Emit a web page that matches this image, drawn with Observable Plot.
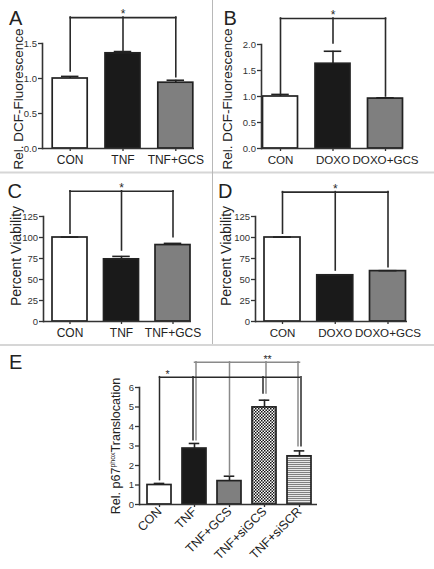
<!DOCTYPE html>
<html><head><meta charset="utf-8">
<script src="https://cdn.jsdelivr.net/npm/d3@7"></script>
<script src="https://cdn.jsdelivr.net/npm/@observablehq/plot@0.6"></script>
<style>
html,body{margin:0;padding:0;background:#fff;overflow:hidden}
#fig{position:relative;width:434px;height:569px;font-family:"Liberation Sans",Arial,Helvetica,sans-serif;}
#fig svg{position:absolute;left:0;top:0}
</style></head><body>
<svg width="0" height="0" style="position:absolute;left:0;top:0">
<defs>
<pattern id="checker" width="3" height="3" patternUnits="userSpaceOnUse">
<rect width="3" height="3" fill="#fff"/><rect width="1.5" height="1.5" fill="#111"/><rect x="1.5" y="1.5" width="1.5" height="1.5" fill="#111"/>
</pattern>
<pattern id="hstripe" width="4" height="2" patternUnits="userSpaceOnUse">
<rect width="4" height="2" fill="#e8e8e8"/><rect width="4" height="1" fill="#808080"/>
</pattern>
</defs></svg>
<div id="fig"></div>
<script>
// ---------- DATA ----------
const catsA = ["CON", "TNF", "TNF+GCS"];
const valsA = [1.0, 1.36, 0.94];
const errsA = [0.03, 0.025, 0.035];
const ticksA = [0, 0.5, 1.0, 1.5];
const bracketLegsA = [1.10, 1.39, 1.02];
const bracketTopA = 1.87;

const catsB = ["CON", "DOXO", "DOXO+GCS"];
const valsB = [1.0, 1.63, 0.96];
const errsB = [0.04, 0.24, 0.015];
const ticksB = [0, 0.5, 1.0, 1.5, 2.0];
const bracketLegsB = [1.05, 2.02, 1.0];
const bracketTopB = 2.5;

const catsC = ["CON", "TNF", "TNF+GCS"];
const valsC = [100, 74, 91];
const errsC = [0.5, 3.5, 2];
const ticksC = [0, 25, 50, 75, 100, 125];
const bracketLegsC = [104.5, 84.5, 100.5];
const bracketTopC = 155;

const catsD = ["CON", "DOXO", "DOXO+GCS"];
const valsD = [100, 55, 60];
const errsD = [0.5, 0.5, 0.5];
const ticksD = [0, 25, 50, 75, 100, 125];
const bracketLegsD = [104.5, 60.7, 64.7];
const bracketTopD = 154;

const catsE = ["CON", "TNF", "TNF+GCS", "TNF+siGCS", "TNF+siSCR"];
const valsE = [1.0, 2.87, 1.2, 4.98, 2.47];
const errsE = [0.08, 0.26, 0.25, 0.37, 0.28];
const ticksE = [0, 1, 2, 3, 4, 5, 6];
const bracketStarCatsE = ["CON", "TNF", "TNF+siGCS", "TNF+siSCR"];
const bracketStarLegsE = [1.25, 3.3, 5.69, 2.99];
const bracketStarTopE = 6.53;
const bracket2StarCatsE = ["TNF", "TNF+GCS", "TNF+siGCS", "TNF+siSCR"];
const bracket2StarLegsE = [3.3, 1.5, 5.69, 2.99];
const bracket2StarTopE = 7.29;

// ---------- STYLE / LAYOUT ----------
const W = 434, H = 569;
const FONT = '"Liberation Sans", Arial, Helvetica, sans-serif';
const INK = "#222";
const fill3 = ["#ffffff", "#1a1a1a", "#7f7f7f"];
const fill5 = ["#ffffff", "#1a1a1a", "#7f7f7f", "url(#checker)", "url(#hstripe)"];

function bandParams(n, L, R, c0, step, bw) {
  const pi = 1 - bw / step;
  const span = R - L;
  const po = Math.max(0, (span / step - (n - pi)) / 2);
  const left = span - step * (n - pi);
  const align = left > 0 ? Math.min(1, Math.max(0, (c0 - bw / 2 - L) / left)) : 0.5;
  return {paddingInner: pi, paddingOuter: po, align};
}

function panel(o) {
  const data = o.cats.map((c, i) => ({cat: c, val: o.vals[i], err: o.errs[i], fill: o.fills[i]}));
  const bp = bandParams(o.cats.length, o.L, o.R, o.c0, o.step, o.bw);
  const capInset = o.bw * o.cap;
  const marks = [
    Plot.barY(data, {x: "cat", y: "val", fill: "fill", stroke: INK, strokeWidth: 1.7}),
    Plot.ruleX(data, {x: "cat", y1: "val", y2: d => d.val + d.err, stroke: INK, strokeWidth: 1.6}),
    Plot.tickY(data, {x: "cat", y: d => d.val + d.err, stroke: INK, strokeWidth: 1.6, insetLeft: capInset, insetRight: capInset}),
    Plot.ruleY([0], {stroke: "#333", strokeWidth: 1.6}),
    Plot.frame({anchor: "left", stroke: "#333", strokeWidth: 1.6}),
    Plot.axisY({ticks: o.ticks, tickFormat: o.fmt, tickSize: 4, tickPadding: 1.5, fontSize: o.tickFont, label: null, stroke: "#333", fill: "#333", strokeWidth: 1.3}),
    Plot.axisX({tickSize: 3, tickPadding: o.catPad, fontSize: o.catFont, label: null, tickRotate: o.rotate || 0, stroke: "#333", fill: INK, strokeWidth: 1.3})
  ];
  for (const b of o.brackets) {
    b.cats.forEach((c, i) => {
      marks.push(Plot.ruleX([{cat: c, end: b.legs[i]}], {x: "cat", y1: "end", y2: () => b.top, stroke: b.color, strokeWidth: b.width, dx: (b.nudges || [])[i] || 0, strokeLinecap: "square"}));
    });
    marks.push(Plot.link([b], {x1: d => d.cats[0], x2: d => d.cats[d.cats.length - 1], y1: "top", y2: "top", stroke: b.color, strokeWidth: b.width, strokeLinecap: "square"}));
    marks.push(Plot.text([b], {x: d => d.starCat, y: "top", text: "star", fontSize: b.starSize, dx: b.starDx || 0, dy: -3, fill: "#2a2a2a"}));
  }
  const svg = Plot.plot({
    width: W, height: H,
    marginLeft: o.L, marginRight: W - o.R, marginTop: o.yTop, marginBottom: H - o.y0,
    x: {type: "band", domain: o.cats, ...bp, round: false},
    y: {domain: [0, o.yMax]},
    color: {type: "identity"},
    style: {background: "transparent", overflow: "visible", fontFamily: FONT, color: INK},
    marks
  });
  svg.style.position = "absolute";
  svg.style.left = "0px";
  svg.style.top = "0px";
  document.getElementById("fig").appendChild(svg);
}

const f1 = d3.format(".1f");
const f0 = d3.format("d");

panel({cats: catsA, vals: valsA, errs: errsA, fills: fill3, ticks: ticksA, fmt: f1, yMax: 1.5,
  L: 42, R: 194, y0: 148, yTop: 43, c0: 69.7, step: 52.8, bw: 35, cap: 0.25, tickFont: 9.5, catFont: 12, catPad: 4,
  brackets: [{cats: catsA, legs: bracketLegsA, top: bracketTopA, color: "#2a2a2a", width: 1.6, star: "*", starCat: catsA[1], starSize: 12}]});

panel({cats: catsB, vals: valsB, errs: errsB, fills: fill3, ticks: ticksB, fmt: f1, yMax: 2.0,
  L: 261, R: 403, y0: 148, yTop: 44, c0: 280, step: 52.5, bw: 35, cap: 0.25, tickFont: 9.5, catFont: 11.6, catPad: 4,
  brackets: [{cats: catsB, legs: bracketLegsB, top: bracketTopB, color: "#2a2a2a", width: 1.6, star: "*", starCat: catsB[1], starSize: 12}]});

panel({cats: catsC, vals: valsC, errs: errsC, fills: fill3, ticks: ticksC, fmt: f0, yMax: 125,
  L: 43, R: 191, y0: 321, yTop: 216, c0: 69.5, step: 51.5, bw: 35, cap: 0.25, tickFont: 9.5, catFont: 12, catPad: 4,
  brackets: [{cats: catsC, legs: bracketLegsC, top: bracketTopC, color: "#2a2a2a", width: 1.6, star: "*", starCat: catsC[1], starSize: 12}]});

panel({cats: catsD, vals: valsD, errs: errsD, fills: fill3, ticks: ticksD, fmt: f0, yMax: 125,
  L: 255, R: 407, y0: 321, yTop: 216, c0: 282, step: 52.75, bw: 36, cap: 0.25, tickFont: 9.5, catFont: 11.6, catPad: 4,
  brackets: [{cats: catsD, legs: bracketLegsD, top: bracketTopD, color: "#2a2a2a", width: 1.6, star: "*", starCat: catsD[1], starSize: 12}]});

panel({cats: catsE, vals: valsE, errs: errsE, fills: fill5, ticks: ticksE, fmt: f0, yMax: 6,
  L: 139, R: 317, y0: 504, yTop: 387, c0: 159, step: 35, bw: 24, cap: 0.28, tickFont: 9.5, catFont: 12.5, catPad: 2, rotate: -45,
  brackets: [
    {cats: bracket2StarCatsE, legs: bracket2StarLegsE, top: bracket2StarTopE, color: "#8a8a8a", width: 1.5, nudges: [1.5, 0, 1.5, -1.5], star: "**", starCat: "TNF+siGCS", starDx: 3, starSize: 10.5},
    {cats: bracketStarCatsE, legs: bracketStarLegsE, top: bracketStarTopE, color: "#2a2a2a", width: 1.5, nudges: [0, -1.5, -1.5, 1.5], star: "*", starCat: "CON", starDx: 8, starSize: 10.5}
  ]});

// ---------- overlay: separators, panel letters, axis titles ----------
const ov = d3.select("#fig").append("svg").attr("width", W).attr("height", H).style("font-family", FONT);
ov.append("line").attr("x1", 0).attr("x2", W).attr("y1", 172.5).attr("y2", 172.5).attr("stroke", "#d6d6d6").attr("stroke-width", 2);
ov.append("line").attr("x1", 0).attr("x2", W).attr("y1", 345).attr("y2", 345).attr("stroke", "#d6d6d6").attr("stroke-width", 2);
ov.append("line").attr("x1", 212.5).attr("x2", 212.5).attr("y1", 0).attr("y2", 344).attr("stroke", "#b8b8b8").attr("stroke-width", 1);

const letters = [["A", 9, 25], ["B", 223.5, 25], ["C", 7.5, 198], ["D", 218, 198], ["E", 9, 369]];
letters.forEach(([t, x, y]) => ov.append("text").attr("x", x).attr("y", y).attr("font-size", 20).attr("fill", INK).text(t));

const ytitles = [["Rel. DCF-Fluorescence", 22.7, 99, 13.5], ["Rel. DCF-Fluorescence", 232, 99, 13.5],
                 ["Percent Viability", 20.7, 256, 14], ["Percent Viability", 230.5, 256, 14]];
ytitles.forEach(([t, x, y, s]) => ov.append("text").attr("transform", `translate(${x},${y}) rotate(-90)`)
  .attr("text-anchor", "middle").attr("font-size", s).attr("fill", INK).text(t));

const te = ov.append("text").attr("transform", "translate(119.5,446) rotate(-90)").attr("text-anchor", "middle")
  .attr("font-size", 12.5).attr("fill", INK);
te.append("tspan").text("Rel. p67");
te.append("tspan").attr("font-size", 7).attr("dy", -4.5).text("phox");
te.append("tspan").attr("dy", 4.5).text("Translocation");
</script>
</body></html>
